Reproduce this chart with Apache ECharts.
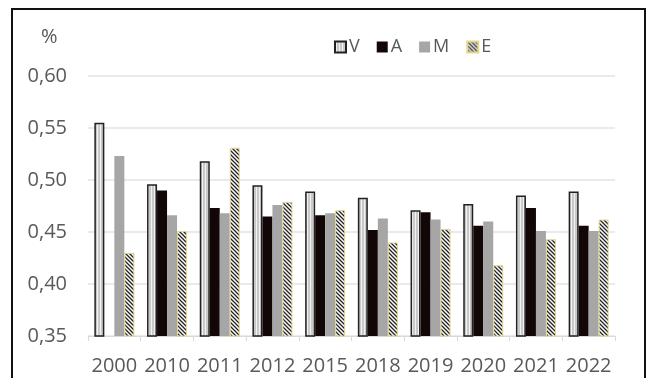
<!DOCTYPE html>
<html>
<head>
<meta charset="utf-8">
<script src="https://cdn.jsdelivr.net/npm/echarts@6/dist/echarts.min.js"></script>
<style>
  html, body { margin: 0; padding: 0; background: #fff; }
  #main { width: 649px; height: 378px; }
</style>
</head>
<body>
<div id="main"></div>
<script>
// data
const years = ['2000', '2010', '2011', '2012', '2015', '2018', '2019', '2020', '2021', '2022']
const valV = [0.555, 0.496, 0.518, 0.495, 0.489, 0.483, 0.471, 0.477, 0.485, 0.489]
const valA = [null, 0.490, 0.473, 0.465, 0.466, 0.452, 0.469, 0.456, 0.473, 0.456]
const valM = [0.523, 0.466, 0.468, 0.476, 0.468, 0.463, 0.462, 0.460, 0.451, 0.451]
const valE = [0.430, 0.451, 0.531, 0.479, 0.471, 0.440, 0.453, 0.418, 0.443, 0.462]
const yTicks = [0.35, 0.40, 0.45, 0.50, 0.55, 0.60]

// small canvas patterns for the striped / hatched bars
function stripePattern () {
  const c = document.createElement('canvas')
  c.width = 3
  c.height = 4
  const ctx = c.getContext('2d')
  ctx.fillStyle = '#c9c9c9'
  ctx.fillRect(0, 0, 3, 4)
  ctx.fillStyle = '#f2f2f2'
  ctx.fillRect(1, 0, 1, 4)
  return c
}
function hatchPattern () {
  const c = document.createElement('canvas')
  c.width = 4
  c.height = 4
  const ctx = c.getContext('2d')
  ctx.fillStyle = '#ffffff'
  ctx.fillRect(0, 0, 4, 4)
  ctx.strokeStyle = '#222222'
  ctx.lineWidth = 1.3
  ctx.beginPath()
  ctx.moveTo(-1, -1); ctx.lineTo(5, 5)
  ctx.moveTo(-1, 3); ctx.lineTo(1, 5)
  ctx.moveTo(3, -1); ctx.lineTo(5, 1)
  ctx.stroke()
  return c
}

const myChart = echarts.init(document.getElementById('main'))
const labelColor = '#595959'
const fontName = 'Open Sans'

const option = {
  animation: false,
  grid: { left: 88, right: 34, top: 76, bottom: 42 },
  legend: {
    left: 329,
    top: 33,
    itemWidth: 11,
    itemHeight: 11,
    itemGap: 17,
    icon: 'rect',
    textStyle: { color: labelColor, fontSize: 18, fontFamily: fontName, padding: [0, 0, 0, -2] },
    data: ['V', 'A', 'M', 'E']
  },
  graphic: [
    {
      type: 'rect',
      shape: { x: 12, y: 9, width: 633, height: 380 },
      style: { fill: 'none', stroke: '#111', lineWidth: 2 }
    },
    {
      type: 'text',
      left: 41,
      top: 27,
      style: { text: '%', fill: labelColor, fontSize: 20, fontFamily: fontName }
    }
  ],
  xAxis: {
    type: 'category',
    data: years,
    axisLine: { lineStyle: { color: '#d9d9d9' } },
    axisTick: { show: true, length: 5, lineStyle: { color: '#d9d9d9' } },
    axisLabel: { color: labelColor, fontSize: 20, fontFamily: fontName, margin: 20, interval: 0, hideOverlap: false }
  },
  yAxis: {
    type: 'value',
    min: yTicks[0],
    max: yTicks[yTicks.length - 1],
    interval: 0.05,
    axisLine: { show: false },
    axisTick: { show: false },
    splitLine: { lineStyle: { color: '#e3e3e3', width: 1.5 } },
    axisLabel: {
      color: labelColor,
      fontSize: 20,
      fontFamily: fontName,
      margin: 21,
      formatter: function (v) { return v.toFixed(2).replace('.', ',') }
    }
  },
  series: [
    {
      name: 'V',
      type: 'bar',
      barWidth: 10,
      barGap: '0%',
      data: valV,
      itemStyle: { color: { image: stripePattern(), repeat: 'repeat' }, borderColor: '#222', borderWidth: 1.5 }
    },
    {
      name: 'A',
      type: 'bar',
      barWidth: 10,
      barGap: '0%',
      data: valA,
      itemStyle: { color: '#120606' }
    },
    {
      name: 'M',
      type: 'bar',
      barWidth: 10,
      barGap: '0%',
      data: valM,
      itemStyle: { color: '#a6a6a6' }
    },
    {
      name: 'E',
      type: 'bar',
      barWidth: 10,
      barGap: '0%',
      data: valE,
      itemStyle: { color: { image: hatchPattern(), repeat: 'repeat' }, borderColor: '#e6d68a', borderWidth: 1 }
    }
  ]
}

myChart.setOption(option)
</script>
</body>
</html>
